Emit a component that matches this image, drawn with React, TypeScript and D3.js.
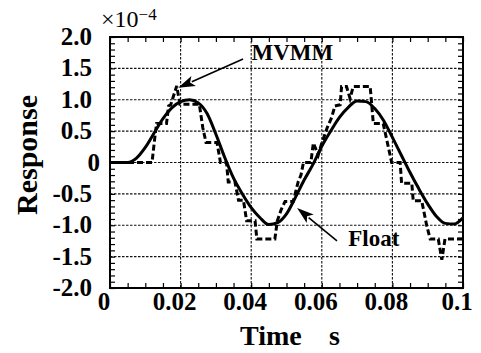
import { useRef, useEffect } from "react";
import { select, scaleLinear, line, range, curveMonotoneX, curveLinear, axisBottom, axisTop, axisLeft, axisRight } from "d3";

const WIDTH = 481;
const HEIGHT = 353;
const margin = { top: 37, right: 18, bottom: 65, left: 110 };
const PW = WIDTH - margin.left - margin.right;
const PH = HEIGHT - margin.top - margin.bottom;
const FONT = "'Liberation Serif', 'Times New Roman', Times, serif";

// tick labels
const xTicks = [0, 0.02, 0.04, 0.06, 0.08, 0.1];
const xTickLabels = ["0", "0.02", "0.04", "0.06", "0.08", "0.1"];
const yTicks = [2, 1.5, 1, 0.5, 0, -0.5, -1, -1.5, -2];
const yTickLabels = ["2.0", "1.5", "1.0", "0.5", "0", "-0.5", "-1.0", "-1.5", "-2.0"];

// Float (solid), x1e-4
const floatTime = [0, 0.0025, 0.005, 0.0075, 0.01, 0.0125, 0.015, 0.0175, 0.02, 0.0225, 0.025, 0.0275, 0.03, 0.0325, 0.035, 0.0375, 0.04, 0.0425, 0.045, 0.0475, 0.05, 0.0525, 0.055, 0.0575, 0.06, 0.0625, 0.065, 0.0675, 0.07, 0.0725, 0.075, 0.0775, 0.08, 0.0825, 0.085, 0.0875, 0.09, 0.0925, 0.095, 0.0975, 0.1];
const floatValue = [0, 0, 0.0, 0.07, 0.24, 0.47, 0.7, 0.87, 0.97, 1.0, 0.95, 0.78, 0.45, 0.08, -0.25, -0.5, -0.72, -0.88, -0.99, -0.96, -0.82, -0.56, -0.28, -0.03, 0.26, 0.5, 0.72, 0.88, 0.98, 0.97, 0.86, 0.67, 0.4, 0.12, -0.16, -0.42, -0.66, -0.86, -0.97, -0.98, -0.88];

// MVMM (dashed), x1e-4
const mvmmTime = [0, 0.0119, 0.0127, 0.0132, 0.016, 0.0166, 0.0172, 0.0189, 0.0198, 0.0253, 0.0263, 0.0272, 0.0303, 0.0313, 0.033, 0.0335, 0.0354, 0.0364, 0.0378, 0.0387, 0.0411, 0.0416, 0.0467, 0.0474, 0.0485, 0.0496, 0.0519, 0.0533, 0.0541, 0.0548, 0.0569, 0.0576, 0.059, 0.06, 0.0615, 0.0628, 0.0637, 0.0652, 0.0656, 0.067, 0.068, 0.0689, 0.0737, 0.0746, 0.0774, 0.0798, 0.0822, 0.0826, 0.0855, 0.0859, 0.0883, 0.0897, 0.0907, 0.093, 0.094, 0.0949, 0.1];
const mvmmValue = [0, 0, 0.4, 0.62, 0.62, 0.9, 0.92, 1.22, 0.93, 0.93, 0.55, 0.32, 0.32, 0, 0, -0.31, -0.31, -0.6, -0.6, -0.93, -0.93, -1.22, -1.22, -0.93, -0.75, -0.62, -0.62, -0.31, -0.2, 0, 0, 0.31, 0.12, 0.31, 0.55, 0.72, 0.9, 0.92, 1.21, 1.21, 1.02, 1.21, 1.21, 0.62, 0.62, 0, 0, -0.33, -0.33, -0.61, -0.61, -1.0, -1.22, -1.22, -1.55, -1.22, -1.22];

// annotations: text position, arrow start and tip, in data units
const mvmmNote = { label: "MVMM", tx: 0.0401, ty: 1.63, x0: 0.0377, y0: 1.65, x1: 0.0193, y1: 1.19 };
const floatNote = { label: "Float", tx: 0.0675, ty: -1.33, x0: 0.0643, y0: -1.25, x1: 0.053, y1: -0.725 };

function App() {
  const svgRef = useRef<SVGSVGElement>(null);

  useEffect(() => {
    const svg = select(svgRef.current);
    const g = svg.select(".chart");
    g.selectAll("*").remove();

    const x = scaleLinear().domain([0, 0.1]).range([0, PW]);
    const y = scaleLinear().domain([-2, 2]).range([PH, 0]);

    // grid
    g.append("g")
      .selectAll("line")
      .data(xTicks.slice(1, -1))
      .join("line")
      .attr("x1", d => x(d)).attr("x2", d => x(d))
      .attr("y1", 0).attr("y2", PH)
      .attr("stroke", "#111").attr("stroke-width", 1.1)
      .attr("stroke-dasharray", "2.5,1.5");
    g.append("g")
      .selectAll("line")
      .data(yTicks.slice(1, -1))
      .join("line")
      .attr("x1", 0).attr("x2", PW)
      .attr("y1", d => y(d)).attr("y2", d => y(d))
      .attr("stroke", "#111").attr("stroke-width", 1.1)
      .attr("stroke-dasharray", "2.5,1.5");

    // minor ticks inside the frame
    const xMinor = range(0, 0.10001, 0.005);
    const yMinor = range(-2, 2.0001, 0.1);
    const tick = (sel, ax) => {
      sel.call(ax);
      sel.select(".domain").remove();
      sel.selectAll("line").attr("stroke", "#000").attr("stroke-width", 1.2);
    };
    g.append("g").attr("transform", `translate(0,${PH})`)
      .call(tick, axisBottom(x).tickValues(xMinor).tickSizeInner(-5).tickSizeOuter(0).tickFormat(() => ""));
    g.append("g")
      .call(tick, axisTop(x).tickValues(xMinor).tickSizeInner(-5).tickSizeOuter(0).tickFormat(() => ""));
    g.append("g")
      .call(tick, axisLeft(y).tickValues(yMinor).tickSizeInner(-5).tickSizeOuter(0).tickFormat(() => ""));
    g.append("g").attr("transform", `translate(${PW},0)`)
      .call(tick, axisRight(y).tickValues(yMinor).tickSizeInner(-5).tickSizeOuter(0).tickFormat(() => ""));

    // frame
    g.append("rect")
      .attr("width", PW).attr("height", PH)
      .attr("fill", "none").attr("stroke", "#000").attr("stroke-width", 2);

    // curves
    const floatLine = line<number>()
      .x((_, i) => x(floatTime[i]))
      .y(d => y(d))
      .curve(curveMonotoneX);
    g.append("path")
      .attr("d", floatLine(floatValue))
      .attr("fill", "none").attr("stroke", "#000").attr("stroke-width", 3);

    const mvmmLine = line<number>()
      .x((_, i) => x(mvmmTime[i]))
      .y(d => y(d))
      .curve(curveLinear);
    g.append("path")
      .attr("d", mvmmLine(mvmmValue))
      .attr("fill", "none").attr("stroke", "#000").attr("stroke-width", 3)
      .attr("stroke-dasharray", "6,3").attr("stroke-linejoin", "miter");

    // tick labels
    g.append("g")
      .selectAll("text")
      .data(xTicks)
      .join("text")
      .attr("x", d => x(d) - 6)
      .attr("y", PH + 22)
      .attr("text-anchor", "middle")
      .style("font-family", FONT).style("font-weight", "bold").style("font-size", "25px")
      .text((_, i) => xTickLabels[i]);
    g.append("g")
      .selectAll("text")
      .data(yTicks)
      .join("text")
      .attr("x", d => (d === 0 ? -10 : -18))
      .attr("y", d => y(d) + 8)
      .attr("text-anchor", "end")
      .style("font-family", FONT).style("font-weight", "bold").style("font-size", "25px")
      .text((_, i) => yTickLabels[i]);

    // annotations
    [mvmmNote, floatNote].forEach(n => {
      const ax0 = x(n.x0), ay0 = y(n.y0), ax1 = x(n.x1), ay1 = y(n.y1);
      const len = Math.hypot(ax1 - ax0, ay1 - ay0);
      const ux = (ax1 - ax0) / len, uy = (ay1 - ay0) / len;
      const hl = 17, hw = 5.5;
      const bx = ax1 - ux * hl, by = ay1 - uy * hl;
      g.append("line")
        .attr("x1", ax0).attr("y1", ay0).attr("x2", bx + ux * 2).attr("y2", by + uy * 2)
        .attr("stroke", "#000").attr("stroke-width", 1.6);
      g.append("polygon")
        .attr("points", `${ax1},${ay1} ${bx - uy * hw},${by + ux * hw} ${bx + ux * 4},${by + uy * 4} ${bx + uy * hw},${by - ux * hw}`)
        .attr("fill", "#000");
      g.append("text")
        .attr("x", x(n.tx)).attr("y", y(n.ty))
        .style("font-family", FONT).style("font-weight", "bold").style("font-size", "23px")
        .text(n.label);
    });

    // scale factor
    const sf = g.append("text")
      .attr("x", -9).attr("y", -10)
      .style("font-family", FONT).style("font-size", "24px");
    sf.append("tspan").text("\u00d710");
    sf.append("tspan").attr("dy", -7).style("font-size", "17px").text("\u22124");

    // axis titles
    g.append("text")
      .attr("transform", "rotate(-90)")
      .attr("x", -(155 - margin.top))
      .attr("y", 37 - margin.left)
      .attr("text-anchor", "middle")
      .style("font-family", FONT).style("font-weight", "bold").style("font-size", "30px")
      .text("Response");
    g.append("text")
      .attr("x", 240 - margin.left).attr("y", 345 - margin.top)
      .style("font-family", FONT).style("font-weight", "bold").style("font-size", "28px")
      .text("Time");
    g.append("text")
      .attr("x", 329 - margin.left).attr("y", 345 - margin.top)
      .style("font-family", FONT).style("font-weight", "bold").style("font-size", "28px")
      .text("s");
  }, []);

  return (
    <svg ref={svgRef} width={WIDTH} height={HEIGHT}
      style={{ position: "absolute", left: 0, top: 0, background: "#fff" }}>
      <g className="chart" transform={`translate(${margin.left},${margin.top})`} />
    </svg>
  );
}

export default App;
